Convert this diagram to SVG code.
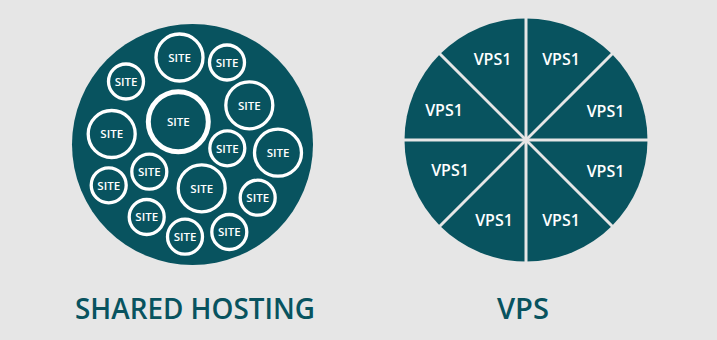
<svg xmlns="http://www.w3.org/2000/svg" width="717" height="340" viewBox="0 0 717 340">
<style>
.bg{fill:#e6e6e6}
.teal{fill:#08535f}
.ring{fill:none;stroke:#ffffff;stroke-width:3.3}
.ring.big{stroke-width:5}
.site{font-family:"Open Sans","Liberation Sans",sans-serif;font-size:11.5px;font-weight:600;fill:#ffffff;text-anchor:middle}
.vps{font-family:"Open Sans","Liberation Sans",sans-serif;font-size:16px;font-weight:600;fill:#ffffff;text-anchor:middle}
.title{font-family:"Open Sans","Liberation Sans",sans-serif;font-size:28px;font-weight:600;fill:#08535f;text-anchor:middle}
.cut{stroke:#e6e6e6;stroke-width:3;fill:none}
</style>
<rect class="bg" x="0" y="0" width="717" height="340"/>
<g id="shared-hosting">
<circle class="teal" cx="192.5" cy="144.5" r="120.5"/>
<g id="site1"><circle class="ring" cx="179.5" cy="57.5" r="23.5"/><text class="site" x="179.5" y="61.7">SITE</text></g>
<g id="site2"><circle class="ring" cx="227" cy="62.5" r="17.5"/><text class="site" x="227" y="66.7">SITE</text></g>
<g id="site3"><circle class="ring" cx="126" cy="81.5" r="17.5"/><text class="site" x="126" y="85.7">SITE</text></g>
<g id="site4"><circle class="ring big" cx="178.3" cy="121.7" r="30"/><text class="site" x="178.3" y="125.9">SITE</text></g>
<g id="site5"><circle class="ring" cx="249.3" cy="105.3" r="23.5"/><text class="site" x="249.3" y="109.5">SITE</text></g>
<g id="site6"><circle class="ring" cx="111.7" cy="134" r="23.5"/><text class="site" x="111.7" y="138.2">SITE</text></g>
<g id="site7"><circle class="ring" cx="227.3" cy="148.3" r="17.5"/><text class="site" x="227.3" y="152.5">SITE</text></g>
<g id="site8"><circle class="ring" cx="278" cy="152.7" r="23.5"/><text class="site" x="278" y="156.9">SITE</text></g>
<g id="site9"><circle class="ring" cx="149.3" cy="171.7" r="17.5"/><text class="site" x="149.3" y="175.9">SITE</text></g>
<g id="site10"><circle class="ring" cx="108.7" cy="185.3" r="17.5"/><text class="site" x="108.7" y="189.5">SITE</text></g>
<g id="site11"><circle class="ring" cx="201.7" cy="188.3" r="23.5"/><text class="site" x="201.7" y="192.5">SITE</text></g>
<g id="site12"><circle class="ring" cx="257.7" cy="197.7" r="17.5"/><text class="site" x="257.7" y="201.9">SITE</text></g>
<g id="site13"><circle class="ring" cx="146.7" cy="217" r="17.5"/><text class="site" x="146.7" y="221.2">SITE</text></g>
<g id="site14"><circle class="ring" cx="185" cy="236.7" r="17.5"/><text class="site" x="185" y="240.9">SITE</text></g>
<g id="site15"><circle class="ring" cx="229.3" cy="232" r="17.5"/><text class="site" x="229.3" y="236.2">SITE</text></g>
</g>
<g id="vps">
<circle class="teal" cx="526" cy="140" r="121.5"/>
<g id="dividers">
<line class="cut" x1="526" y1="17" x2="526" y2="263"/>
<line class="cut" x1="403" y1="140" x2="649" y2="140"/>
<line class="cut" x1="439" y1="53" x2="613" y2="227"/>
<line class="cut" x1="613" y1="53" x2="439" y2="227"/>
</g>
<text class="vps" x="492.5" y="65">VPS1</text>
<text class="vps" x="561" y="65">VPS1</text>
<text class="vps" x="605.5" y="116.5">VPS1</text>
<text class="vps" x="444" y="116">VPS1</text>
<text class="vps" x="450" y="176">VPS1</text>
<text class="vps" x="605.5" y="177">VPS1</text>
<text class="vps" x="494" y="226">VPS1</text>
<text class="vps" x="561" y="226">VPS1</text>
</g>
<g id="labels">
<text class="title" x="195" y="319" textLength="240" lengthAdjust="spacingAndGlyphs">SHARED HOSTING</text>
<text class="title" x="523" y="319" textLength="52" lengthAdjust="spacingAndGlyphs">VPS</text>
</g>
</svg>
